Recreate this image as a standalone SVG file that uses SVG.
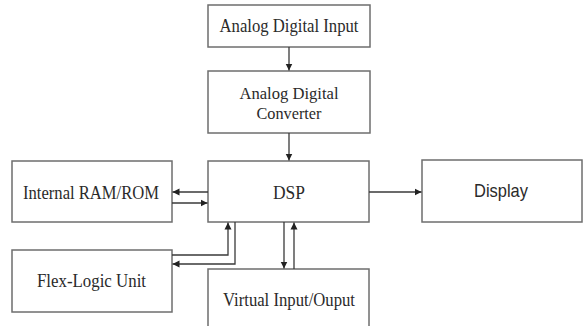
<svg xmlns="http://www.w3.org/2000/svg" width="583" height="326" viewBox="0 0 583 326">
  <style>
    .box { fill: #ffffff; stroke: #6e6e6e; stroke-width: 1.5; }
    .lbl { font-family: "Liberation Serif", "Times New Roman", serif; font-size: 19px; fill: #2a2a2a; }
    .lbl-sm { font-family: "Liberation Serif", "Times New Roman", serif; font-size: 17px; fill: #2a2a2a; }
    .lbl-sans { font-family: "Liberation Sans", Arial, sans-serif; font-size: 19px; fill: #2a2a2a; }
    .wire { fill: none; stroke: #3a3a3a; stroke-width: 1.3; marker-end: url(#head); }
  </style>
  <defs>
    <marker id="head" markerWidth="8" markerHeight="8" refX="7" refY="4" orient="auto" markerUnits="userSpaceOnUse">
      <path d="M0,0.5 L7,4 L0,7.5 Z" fill="#222"/>
    </marker>
  </defs>
  <rect width="583" height="326" fill="#ffffff"/>

  <g id="analog-input">
    <rect class="box" x="208" y="5" width="162" height="42"/>
    <text class="lbl" x="289" y="32" text-anchor="middle" textLength="139" lengthAdjust="spacingAndGlyphs">Analog Digital Input</text>
  </g>

  <g id="adc">
    <rect class="box" x="208" y="71" width="162" height="62"/>
    <text class="lbl-sm" x="289" y="99" text-anchor="middle" textLength="99" lengthAdjust="spacingAndGlyphs">Analog Digital</text>
    <text class="lbl-sm" x="289" y="119" text-anchor="middle" textLength="65" lengthAdjust="spacingAndGlyphs">Converter</text>
  </g>

  <g id="dsp">
    <rect class="box" x="208" y="161" width="161" height="61"/>
    <text class="lbl" x="289" y="199" text-anchor="middle" textLength="32" lengthAdjust="spacingAndGlyphs">DSP</text>
  </g>

  <g id="ram-rom">
    <rect class="box" x="12" y="161" width="160" height="61"/>
    <text class="lbl" x="91" y="199" text-anchor="middle" textLength="136" lengthAdjust="spacingAndGlyphs">Internal RAM/ROM</text>
  </g>

  <g id="flex-logic">
    <rect class="box" x="12" y="250" width="160" height="62"/>
    <text class="lbl" x="91.5" y="287" text-anchor="middle" textLength="109" lengthAdjust="spacingAndGlyphs">Flex-Logic Unit</text>
  </g>

  <g id="virtual-io">
    <rect class="box" x="208" y="269" width="161" height="70"/>
    <text class="lbl" x="289" y="306" text-anchor="middle" textLength="132" lengthAdjust="spacingAndGlyphs">Virtual Input/Ouput</text>
  </g>

  <g id="display">
    <rect class="box" x="422" y="160" width="160" height="62"/>
    <text class="lbl-sans" x="501" y="197" text-anchor="middle" textLength="54" lengthAdjust="spacingAndGlyphs">Display</text>
  </g>

  <g id="connectors">
    <!-- input chain -->
    <path class="wire" d="M289,47 V70.5"/>
    <path class="wire" d="M289,133 V160.5"/>
    <!-- DSP to display -->
    <path class="wire" d="M369,192 H421.5"/>
    <!-- DSP and memory -->
    <path class="wire" d="M208,192 H172.5"/>
    <path class="wire" d="M172,203 H207.5"/>
    <!-- DSP and flex-logic -->
    <path class="wire" d="M172,255 H228 V222.5"/>
    <path class="wire" d="M235,222 V264 H172.5"/>
    <!-- DSP and virtual I/O -->
    <path class="wire" d="M284,222 V268.5"/>
    <path class="wire" d="M294,269 V222.5"/>
  </g>
</svg>
